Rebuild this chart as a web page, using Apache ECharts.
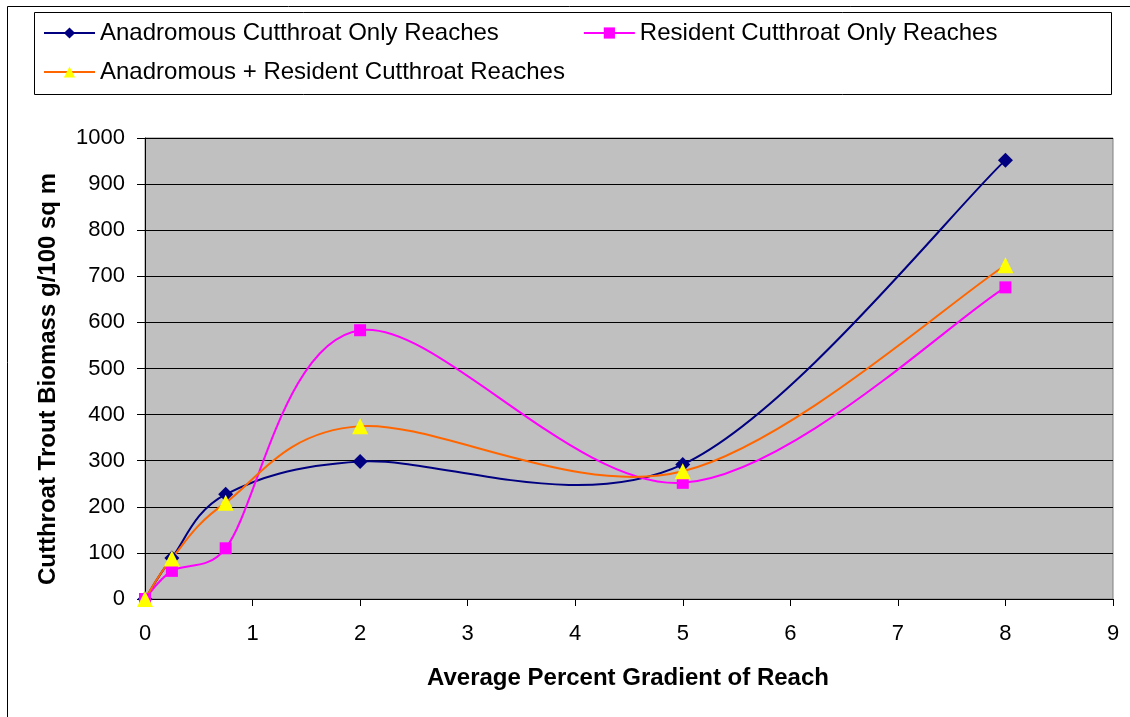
<!DOCTYPE html>
<html>
<head>
<meta charset="utf-8">
<script src="https://cdn.jsdelivr.net/npm/echarts@6/dist/echarts.min.js"></script>
<style>
  html, body { margin: 0; padding: 0; background: #fff; }
  #chart { width: 1130px; height: 717px; }
</style>
</head>
<body>
<div id="chart"></div>
<script>
var gradient = [0, 0.25, 0.75, 2, 5, 8];
var anadromousOnly = [0, 89, 227, 298, 292, 952];
var residentOnly = [0, 61, 110, 583, 252, 676];
var anadromousResident = [0, 88, 209, 375, 277, 724];

var seriesNames = [
    'Anadromous Cutthroat Only Reaches',
    'Resident Cutthroat Only Reaches',
    'Anadromous + Resident Cutthroat Reaches'
];
var lineColors = ['#000080', '#FF00FF', '#FF6600'];

var font = '"Liberation Sans", Arial, sans-serif';

function pairs(ys) {
    return gradient.map(function (x, i) { return [x, ys[i]]; });
}

// control arm = (next - prev) / 6, capped at half the segment length (excel style)
function arm(a, b, segLen) {
    var dx = (b[0] - a[0]) / 6, dy = (b[1] - a[1]) / 6;
    var len = Math.sqrt(dx * dx + dy * dy);
    if (len > segLen / 2 && len > 0) {
        var k = segLen / 2 / len;
        dx *= k; dy *= k;
    }
    return [dx, dy];
}

// smoothed line: each data item draws the bezier segment to the next point
function curveSeries(ys, color) {
    var pts = pairs(ys);
    return {
        type: 'custom',
        name: 'curve',
        coordinateSystem: 'cartesian2d',
        silent: true,
        z: 1,
        data: pts,
        renderItem: function (params, api) {
            var i = params.dataIndex;
            if (i >= pts.length - 1) return null;
            var p0 = api.coord(pts[Math.max(i - 1, 0)]);
            var p1 = api.coord(pts[i]);
            var p2 = api.coord(pts[i + 1]);
            var p3 = api.coord(pts[Math.min(i + 2, pts.length - 1)]);
            var seg = Math.sqrt(Math.pow(p2[0] - p1[0], 2) + Math.pow(p2[1] - p1[1], 2));
            var a1 = arm(p0, p2, seg);
            var a2 = arm(p1, p3, seg);
            return {
                type: 'bezierCurve',
                shape: {
                    x1: p1[0], y1: p1[1],
                    x2: p2[0], y2: p2[1],
                    cpx1: p1[0] + a1[0],
                    cpy1: p1[1] + a1[1],
                    cpx2: p2[0] - a2[0],
                    cpy2: p2[1] - a2[1]
                },
                style: { stroke: color, lineWidth: 2, fill: null }
            };
        }
    };
}

var chart = echarts.init(document.getElementById('chart'));

var legendBase = {
    left: 38,
    itemWidth: 51,
    itemHeight: 14,
    itemGap: 84,
    lineStyle: { width: 2, opacity: 1 },
    textStyle: { fontSize: 24, color: '#000', fontFamily: font }
};

var option = {
    backgroundColor: '#fff',
    animation: false,
    textStyle: { fontFamily: font },
    graphic: [
        // outer chart frame
        { type: 'rect', shape: { x: 7.5, y: 6.5, width: 1130, height: 720 },
          style: { fill: 'none', stroke: '#000', lineWidth: 1 }, silent: true },
        // legend box
        { type: 'rect', shape: { x: 34.5, y: 12.5, width: 1077, height: 82 },
          style: { fill: '#fff', stroke: '#000', lineWidth: 1 }, silent: true, z: -1 },
        // axis titles
        { type: 'text', x: 48, y: 379, rotation: Math.PI / 2, silent: true,
          style: { text: 'Cutthroat Trout Biomass g/100 sq m', fontSize: 24, fontWeight: 'bold',
                   fontFamily: font, fill: '#000', align: 'center', verticalAlign: 'middle' } },
        { type: 'text', x: 628, y: 678, silent: true,
          style: { text: 'Average Percent Gradient of Reach', fontSize: 24, fontWeight: 'bold',
                   fontFamily: font, fill: '#000', align: 'center', verticalAlign: 'middle' } }
    ],
    legend: [
        Object.assign({}, legendBase, { data: [seriesNames[0], seriesNames[1]], top: 16 }),
        Object.assign({}, legendBase, { data: [seriesNames[2]], top: 55 })
    ],
    grid: {
        left: 145,
        top: 138,
        right: 17,
        bottom: 118,
        show: true,
        backgroundColor: '#C0C0C0',
        borderColor: '#808080',
        borderWidth: 1
    },
    xAxis: {
        type: 'value',
        min: 0,
        max: 9,
        interval: 1,
        axisLine: { show: true, lineStyle: { color: '#000', width: 1 } },
        axisTick: { show: true, length: 7, lineStyle: { color: '#000' } },
        axisLabel: { fontSize: 22, color: '#000', margin: 24 },
        splitLine: { show: false }
    },
    yAxis: {
        type: 'value',
        min: 0,
        max: 1000,
        interval: 100,
        axisLine: { show: true, lineStyle: { color: '#000', width: 1 } },
        axisTick: { show: true, length: 8, lineStyle: { color: '#000' } },
        axisLabel: { fontSize: 22, color: '#000', margin: 20, formatter: function (v) { return String(v); } },
        splitLine: { show: true, lineStyle: { color: '#000', width: 1 } }
    },
    series: [
        curveSeries(anadromousOnly, lineColors[0]),
        curveSeries(residentOnly, lineColors[1]),
        curveSeries(anadromousResident, lineColors[2]),
        {
            name: seriesNames[0],
            type: 'line',
            z: 3,
            data: pairs(anadromousOnly),
            symbol: 'diamond',
            symbolSize: 15,
            lineStyle: { color: lineColors[0], width: 2, opacity: 0 },
            itemStyle: { color: '#000080' }
        }, {
            name: seriesNames[1],
            type: 'line',
            z: 3,
            data: pairs(residentOnly),
            symbol: 'rect',
            symbolSize: 12,
            lineStyle: { color: lineColors[1], width: 2, opacity: 0 },
            itemStyle: { color: '#FF00FF' }
        }, {
            name: seriesNames[2],
            type: 'line',
            z: 3,
            data: pairs(anadromousResident),
            symbol: 'triangle',
            symbolSize: 16,
            lineStyle: { color: lineColors[2], width: 2, opacity: 0 },
            itemStyle: { color: '#FFFF00' }
        }
    ]
};

chart.setOption(option);
</script>
</body>
</html>
